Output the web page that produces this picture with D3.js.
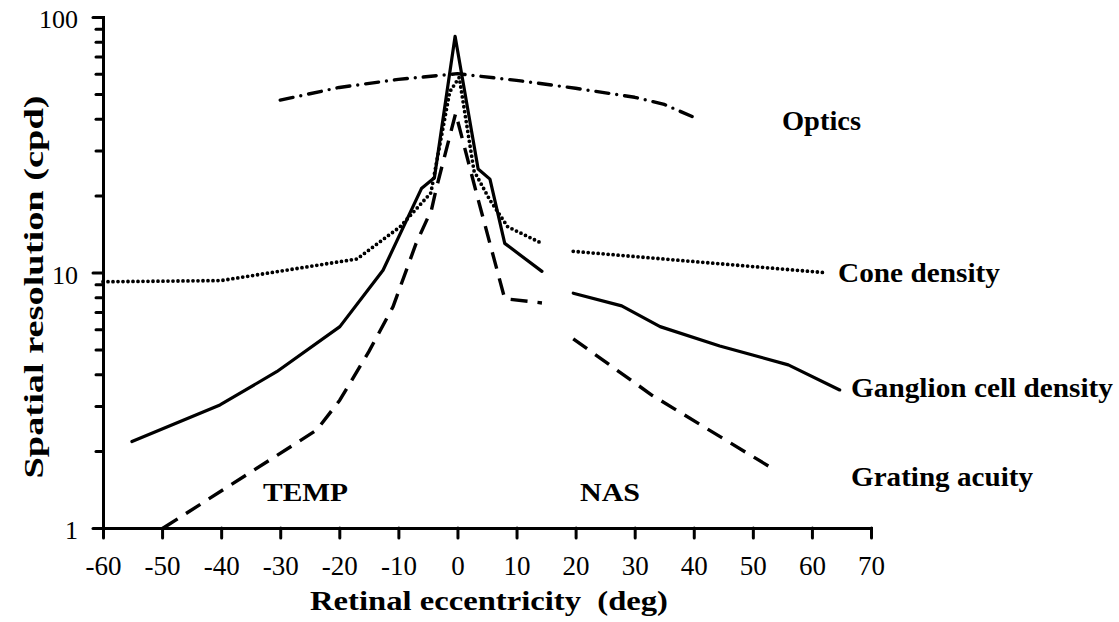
<!DOCTYPE html>
<html>
<head>
<meta charset="utf-8">
<script src="https://cdn.jsdelivr.net/npm/d3@7"></script>
<style>
  html, body { margin: 0; padding: 0; background: #fff; }
  svg { display: block; }
  text { font-family: "Liberation Serif", "Times New Roman", Times, serif; fill: #000; }
</style>
</head>
<body>
<svg id="chart" width="1119" height="622"></svg>
<script>
// ---- data -------------------------------------------------------------
// Retinal eccentricity (deg): negative = temporal, positive = nasal.
// null marks a gap in a curve (optic disc region).
const xTicks = [-60, -50, -40, -30, -20, -10, 0, 10, 20, 30, 40, 50, 60, 70];
const yLabelTicks = [1, 10, 100];
const yMinorTicks = [2, 3, 4, 5, 6, 7, 8, 9, 20, 30, 40, 50, 60, 70, 80, 90];

const opticsEcc = [-30, -20, -10, 0, 10, 20, 30, 35, 40];
const opticsRes = [47.3, 53, 57, 60, 56.5, 52.6, 48.5, 45.5, 40.5];

const coneEcc = [-60, -40, -17, -9.7, -4.5, -1.3, 0.3, 2.8, 5.5, 8.5, 14, null, 19.6, 61.9];
const coneRes = [9.2, 9.3, 11.3, 15.1, 20.5, 51, 58, 25, 19.2, 15.1, 13.1, null, 12.1, 10.0];

const ganglionEcc = [-55.1, -40.2, -30.6, -19.9, -12.6, -6.1, -3.9, -0.4, 3.5, 5.5, 8, 14.3, null, 19.6, 27.8, 34.3, 44.4, 56, 64.7];
const ganglionRes = [2.18, 3.03, 4.09, 6.14, 10.2, 21.3, 23.5, 84, 25.4, 23.2, 13, 10.1, null, 8.3, 7.4, 6.14, 5.16, 4.35, 3.47];

const gratingEcc = [-49.8, -23.8, -19.9, -15, -10.9, -7, -4.4, -3.5, -0.3, 3.2, 8, 14.3, null, 19.6, 33, 53.5];
const gratingRes = [1.0, 2.42, 3.17, 4.9, 7.35, 13, 17.6, 21.7, 42, 20.5, 7.9, 7.6, null, 5.5, 3.3, 1.7];

const seriesNames = ["Optics", "Cone density", "Ganglion cell density", "Grating acuity"];
const regionNames = ["TEMP", "NAS"];
const xTitle = "Retinal eccentricity  (deg)";
const yTitle = "Spatial resolution (cpd)";

// ---- layout -----------------------------------------------------------
const svg = d3.select("#chart");
const x = d3.scaleLinear().domain([-60, 70]).range([103, 871]);
const y = d3.scaleLog().domain([1, 100]).range([528, 17]);

const zip = (a, b) => a.map((v, i) => (v === null ? null : [v, b[i]]));
const line = d3.line()
  .defined(d => d !== null)
  .x(d => x(d[0]))
  .y(d => y(d[1]));

// plain hyphen for negative tick values
const plainNum = d => String(d);

// ---- axes -------------------------------------------------------------
const xAxis = svg.append("g")
  .attr("transform", `translate(0,${y(1)})`)
  .call(d3.axisBottom(x).tickValues(xTicks).tickSize(10).tickSizeOuter(0).tickFormat(plainNum));
xAxis.selectAll("text")
  .attr("y", 0).attr("dy", 0)
  .attr("transform", "translate(0,47)")
  .style("font-size", "27px");

const yAxisMinor = svg.append("g")
  .attr("transform", `translate(${x(-60)},0)`)
  .call(d3.axisLeft(y).tickValues(yMinorTicks).tickSize(7).tickSizeOuter(0).tickFormat(""));
yAxisMinor.select(".domain").remove();

const yAxis = svg.append("g")
  .attr("transform", `translate(${x(-60)},0)`)
  .call(d3.axisLeft(y).tickValues(yLabelTicks).tickSize(10).tickSizeOuter(0).tickFormat(plainNum));
yAxis.selectAll("text")
  .attr("x", -25)
  .attr("dy", "0.42em")
  .style("font-size", "26px");

svg.selectAll(".domain, .tick line")
  .attr("stroke", "#000")
  .attr("stroke-width", 3);
svg.selectAll(".domain").attr("stroke-linecap", "square");
svg.selectAll(".tick line").attr("stroke-linecap", "round");

// ---- curves -----------------------------------------------------------
const series = [
  { data: zip(opticsEcc, opticsRes),     dash: "13 8 0 8", cap: "round", width: 3.4 },
  { data: zip(coneEcc, coneRes),         dash: "0 5",      cap: "round", width: 3.8 },
  { data: zip(ganglionEcc, ganglionRes), dash: null,       cap: "round", width: 3.2 },
  { data: zip(gratingEcc, gratingRes),   dash: "17 10",    cap: "butt",  width: 3.4 }
];

svg.append("g").selectAll("path")
  .data(series)
  .join("path")
  .attr("d", d => line(d.data))
  .attr("fill", "none")
  .attr("stroke", "#000")
  .attr("stroke-width", d => d.width)
  .attr("stroke-linejoin", "round")
  .attr("stroke-linecap", d => d.cap)
  .attr("stroke-dasharray", d => d.dash);

// ---- labels -----------------------------------------------------------
const seriesLabelPos = [
  { x: 782, y: 130, w: 79 },
  { x: 838, y: 282, w: 162 },
  { x: 851, y: 397, w: 262 },
  { x: 851, y: 486, w: 182 }
];
svg.append("g").selectAll("text")
  .data(seriesNames)
  .join("text")
  .attr("x", (d, i) => seriesLabelPos[i].x)
  .attr("y", (d, i) => seriesLabelPos[i].y)
  .attr("textLength", (d, i) => seriesLabelPos[i].w)
  .attr("lengthAdjust", "spacingAndGlyphs")
  .style("font-size", "27px")
  .style("font-weight", "bold")
  .text(d => d);

const regionLabelPos = [
  { x: 263, y: 501, w: 85 },
  { x: 580, y: 501, w: 60 }
];
svg.append("g").selectAll("text")
  .data(regionNames)
  .join("text")
  .attr("x", (d, i) => regionLabelPos[i].x)
  .attr("y", (d, i) => regionLabelPos[i].y)
  .attr("textLength", (d, i) => regionLabelPos[i].w)
  .attr("lengthAdjust", "spacingAndGlyphs")
  .style("font-size", "26px")
  .style("font-weight", "bold")
  .text(d => d);

svg.append("text")
  .attr("x", 489).attr("y", 610)
  .attr("text-anchor", "middle")
  .attr("textLength", 358)
  .attr("lengthAdjust", "spacingAndGlyphs")
  .style("font-size", "28px")
  .style("font-weight", "bold")
  .style("white-space", "pre")
  .text(xTitle);

svg.append("text")
  .attr("transform", "translate(43,287) rotate(-90)")
  .attr("text-anchor", "middle")
  .attr("textLength", 383)
  .attr("lengthAdjust", "spacingAndGlyphs")
  .style("font-size", "27px")
  .style("font-weight", "bold")
  .text(yTitle);
</script>
</body>
</html>
